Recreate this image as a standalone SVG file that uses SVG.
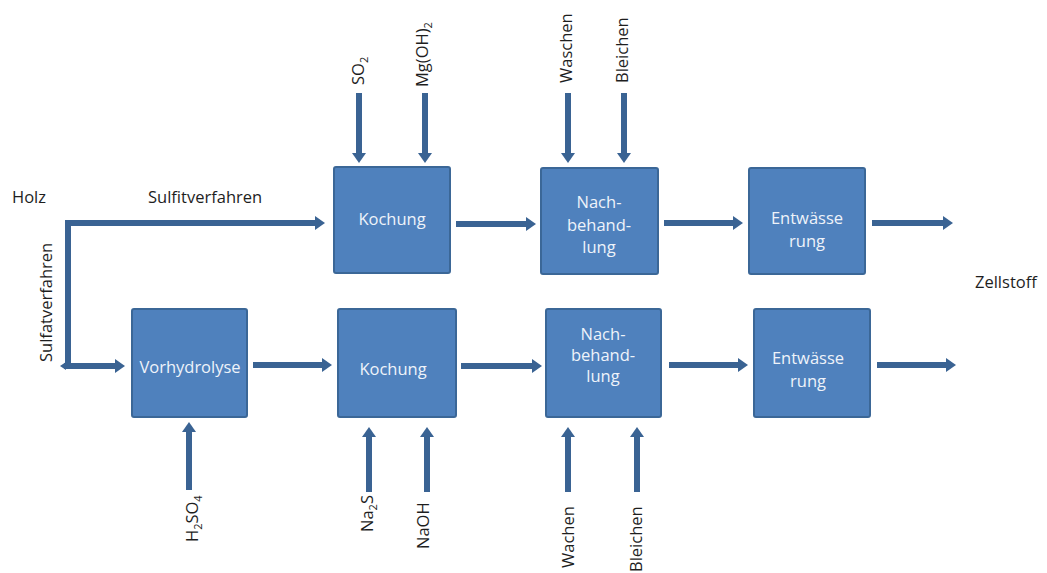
<svg xmlns="http://www.w3.org/2000/svg" width="1047" height="573" viewBox="0 0 1047 573">
  <defs>
    <marker id="head" markerUnits="userSpaceOnUse" markerWidth="11" markerHeight="14" refX="1" refY="7" orient="auto">
      <path d="M0,0 L10,7 L0,14 z" fill="#3A6393"/>
    </marker>
    <style>
      .box { fill: #4F81BD; stroke: #3B6797; stroke-width: 2; }
      .flow { fill: none; stroke: #3A6393; stroke-width: 6; marker-end: url(#head); }
      .in { fill: none; stroke: #3A6393; stroke-width: 6; marker-end: url(#head); }
      .boxtext { font-family: "Open Sans", "Liberation Sans", sans-serif; font-size: 16.5px; fill: #EEF3FA; text-anchor: middle; }
      .label { font-family: "Open Sans", "Liberation Sans", sans-serif; font-size: 16.5px; fill: #1E1E1E; }
      .sub { font-size: 11px; }
    </style>
  </defs>

  <!-- connectors -->
  <g id="connectors">
    <!-- wood feed: split into sulfite (top) and sulfate (bottom) routes -->
    <path class="flow" d="M68,366 V223 H316"/>
    <path class="flow" d="M64,366 H116"/>
    <path d="M60,366 L66,362 L66,370 z" fill="#3A6393"/>

    <!-- sulfite line -->
    <path class="flow" d="M456,224 H527"/>
    <path class="flow" d="M664,223 H734"/>
    <path class="flow" d="M872,223 H944"/>

    <!-- sulfate line -->
    <path class="flow" d="M253,365 H323"/>
    <path class="flow" d="M461,366 H533"/>
    <path class="flow" d="M669,365 H739"/>
    <path class="flow" d="M877,365 H947"/>

    <!-- chemical inputs from above -->
    <path class="in" d="M359,93 V154"/>
    <path class="in" d="M425,93 V154"/>
    <path class="in" d="M568,93 V154"/>
    <path class="in" d="M624,93 V154"/>

    <!-- chemical inputs from below -->
    <path class="in" d="M189,490 V431"/>
    <path class="in" d="M369,492 V436"/>
    <path class="in" d="M427,492 V436"/>
    <path class="in" d="M568,492 V436"/>
    <path class="in" d="M637,492 V436"/>
  </g>

  <!-- sulfite process -->
  <g id="kochung-sulfit">
    <rect class="box" x="334" y="167" width="116" height="106" rx="2"/>
    <text class="boxtext" x="392" y="225">Kochung</text>
  </g>
  <g id="nachbehandlung-sulfit">
    <rect class="box" x="541" y="168" width="117" height="106" rx="2"/>
    <text class="boxtext" x="599" y="208">Nach-</text>
    <text class="boxtext" x="599" y="231">behand-</text>
    <text class="boxtext" x="599" y="253">lung</text>
  </g>
  <g id="entwaesserung-sulfit">
    <rect class="box" x="749" y="168" width="116" height="106" rx="2"/>
    <text class="boxtext" x="807" y="224">Entwässe</text>
    <text class="boxtext" x="807" y="247">rung</text>
  </g>

  <!-- sulfate process -->
  <g id="vorhydrolyse">
    <rect class="box" x="132" y="309" width="115" height="108" rx="2"/>
    <text class="boxtext" x="190" y="373">Vorhydrolyse</text>
  </g>
  <g id="kochung-sulfat">
    <rect class="box" x="338" y="309" width="118" height="108" rx="2"/>
    <text class="boxtext" x="393" y="375">Kochung</text>
  </g>
  <g id="nachbehandlung-sulfat">
    <rect class="box" x="546" y="309" width="115" height="108" rx="2"/>
    <text class="boxtext" x="603" y="340">Nach-</text>
    <text class="boxtext" x="603" y="361">behand-</text>
    <text class="boxtext" x="603" y="382">lung</text>
  </g>
  <g id="entwaesserung-sulfat">
    <rect class="box" x="754" y="309" width="116" height="108" rx="2"/>
    <text class="boxtext" x="808" y="364">Entwässe</text>
    <text class="boxtext" x="808" y="387">rung</text>
  </g>

  <!-- route labels -->
  <g id="labels">
    <text class="label" x="12" y="203">Holz</text>
    <text class="label" x="148" y="203">Sulfitverfahren</text>
    <text class="label" transform="translate(52,362) rotate(-90)">Sulfatverfahren</text>
    <text class="label" x="975" y="288">Zellstoff</text>

    <!-- top inputs -->
    <text class="label" transform="translate(364,85) rotate(-90)">SO<tspan class="sub" dy="4">2</tspan></text>
    <text class="label" transform="translate(428,87) rotate(-90)">Mg(OH)<tspan class="sub" dy="4">2</tspan></text>
    <text class="label" transform="translate(572,83) rotate(-90)">Waschen</text>
    <text class="label" transform="translate(628,83) rotate(-90)">Bleichen</text>

    <!-- bottom inputs -->
    <text class="label" transform="translate(198,542) rotate(-90)">H<tspan class="sub" dy="4">2</tspan><tspan dy="-4">SO</tspan><tspan class="sub" dy="4">4</tspan></text>
    <text class="label" transform="translate(373,532) rotate(-90)">Na<tspan class="sub" dy="4">2</tspan><tspan dy="-4">S</tspan></text>
    <text class="label" transform="translate(429,549) rotate(-90)">NaOH</text>
    <text class="label" transform="translate(574,568) rotate(-90)">Wachen</text>
    <text class="label" transform="translate(642,572) rotate(-90)">Bleichen</text>
  </g>
</svg>
